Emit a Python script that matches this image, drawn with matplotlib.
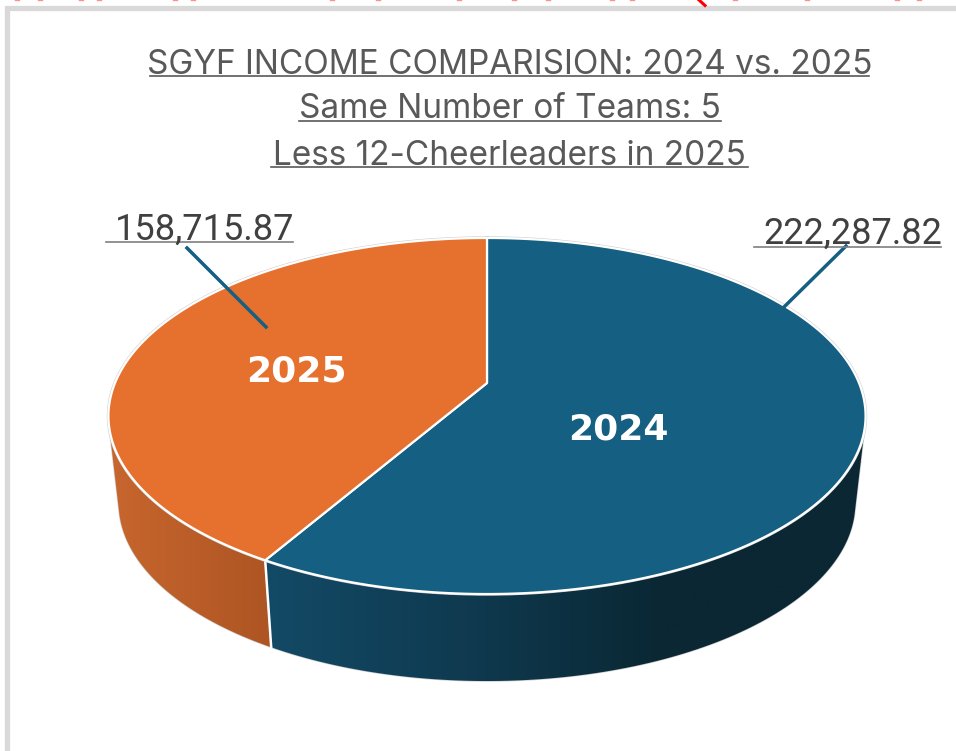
import numpy as np
import matplotlib
matplotlib.use("Agg")
import matplotlib.pyplot as plt
from matplotlib.colors import LinearSegmentedColormap
from matplotlib.patches import Polygon

years = ["2024", "2025"]
income = [222287.82, 158715.87]
income_labels = ["222,287.82", "158,715.87"]
title_lines = ["SGYF INCOME COMPARISION: 2024 vs. 2025",
               "Same Number of Teams: 5",
               "Less 12-Cheerleaders in 2025"]

BLUE = "#156082"
ORANGE = "#E6712F"
GREY = "#595959"

plt.rcParams['font.family'] = ['Liberation Sans', 'DejaVu Sans']

fig = plt.figure(figsize=(9.56, 7.51), dpi=100)
ax = fig.add_axes([0, 0, 1, 1])
ax.set_xlim(0, 956)
ax.set_ylim(751, 0)
ax.axis("off")


# tilted circle -> screen pixels, with a bit of perspective
def project(theta, top=True):
    u = np.sin(theta)
    v = np.cos(theta)
    d = 1 + 0.1854 * v
    x = 372 * u / d
    y = (383 - 100.9 * v) / d
    if top:
        return 487 + x, y
    return 487 + x * 0.973, y + 87


def arc(start, end, top=True):
    t = np.linspace(start, end, 200)
    x, y = project(t, top)
    return np.column_stack([x, y])


# convex outline of a point cloud (monotone chain)
def hull(pts):
    pts = sorted(map(tuple, pts))
    def half(seq):
        out = []
        for p in seq:
            while len(out) > 1 and np.cross(np.subtract(out[-1], out[-2]), np.subtract(p, out[-2])) <= 0:
                out.pop()
            out.append(p)
        return out[:-1]
    return np.array(half(pts) + half(pts[::-1]))


shares = np.array(income) / sum(income)
split = shares[0] * 2 * np.pi

# frame of the pasted slide
ax.plot([7, 7, 956], [751, 8, 8], color="#D9D9D9", lw=3.8, solid_joinstyle="miter")

# leftovers of the red text cut off by the crop
for x in [17, 40, 81, 99, 175, 193, 332, 378, 459, 514, 548, 612, 632, 735, 807, 897, 919]:
    ax.plot([x - 2, x + 2], [0.3, 0.3], color="#FF9090", lw=1.0)
ax.plot([699, 705], [0, 5.5], color="red", lw=2.2)

# side walls, orange first so blue hides the overhang of its outline
walls = [(split, 2 * np.pi, ["#C8662E", "#AD5523"], 109, 271),
         (0, split, ["#134A66", "#0F3A50", "#0A2733", "#0A2733"], 265, 865)]
for start, end, shades, x0, x1 in walls:
    wall = Polygon(hull(np.vstack([arc(start, end), arc(start, end, top=False)])),
                   closed=True, fc="none", ec="#CFCFCF", lw=1.0, zorder=3)
    ax.add_patch(wall)
    cmap = LinearSegmentedColormap.from_list("w", shades)
    img = ax.imshow(np.linspace(0, 1, 256).reshape(1, -1), cmap=cmap, aspect="auto",
                    extent=[x0, x1, 700, 380], zorder=3)
    img.set_clip_path(wall)
ax.set_xlim(0, 956)
ax.set_ylim(751, 0)

# white seam between the two walls
seam = np.vstack([arc(split, split + 1e-6)[0], arc(split, split + 1e-6, top=False)[0]])
ax.plot(seam[:, 0], seam[:, 1], color="white", lw=1.8, zorder=3.5)

# top face
cx, cy = 487, 383
rim = arc(0, 2 * np.pi)
ax.plot(rim[:, 0], rim[:, 1], color="#CFCFCF", lw=2.4, zorder=3.6)
slices = [(0, split, BLUE), (split, 2 * np.pi, ORANGE)]
for start, end, col in slices:
    pts = np.vstack([[cx, cy], arc(start, end)])
    ax.add_patch(Polygon(pts, closed=True, fc=col, ec="white", lw=1.6, zorder=4,
                         joinstyle="round"))

# leader lines
ax.plot([846, 784], [246, 307], color=BLUE, lw=2.5, zorder=5)
ax.plot([187, 266], [248, 327], color=BLUE, lw=2.5, zorder=5)

# value labels
ax.text(942, 244, income_labels[0], ha="right", va="baseline", fontsize=26, color="#404040", family="Roboto", zorder=6)
ax.text(294, 240, income_labels[1], ha="right", va="baseline", fontsize=26, color="#404040", family="Roboto", zorder=6)
ax.plot([754, 941], [246.5, 246.5], color="#7F7F7F", lw=1.2, zorder=5)
ax.plot([106, 293], [242, 242], color="#7F7F7F", lw=1.2, zorder=5)

# year labels on the slices
ax.text(618, 429, years[0], ha="center", va="center", fontsize=26, fontweight="bold",
        color="white", family="DejaVu Sans", zorder=6)
ax.text(296, 371, years[1], ha="center", va="center", fontsize=26, fontweight="bold",
        color="white", family="DejaVu Sans", zorder=6)

# title
for line, y, x0, x1 in zip(title_lines, [74, 118.5, 165], [150, 299, 271], [869, 721, 748]):
    ax.text((x0 + x1) / 2, y, line, ha="center", va="baseline", fontsize=24, color=GREY, family="Inter")
    ax.plot([x0, x1], [y + 2, y + 2], color=GREY, lw=1.2)

fig.savefig("out.png", dpi=100)
